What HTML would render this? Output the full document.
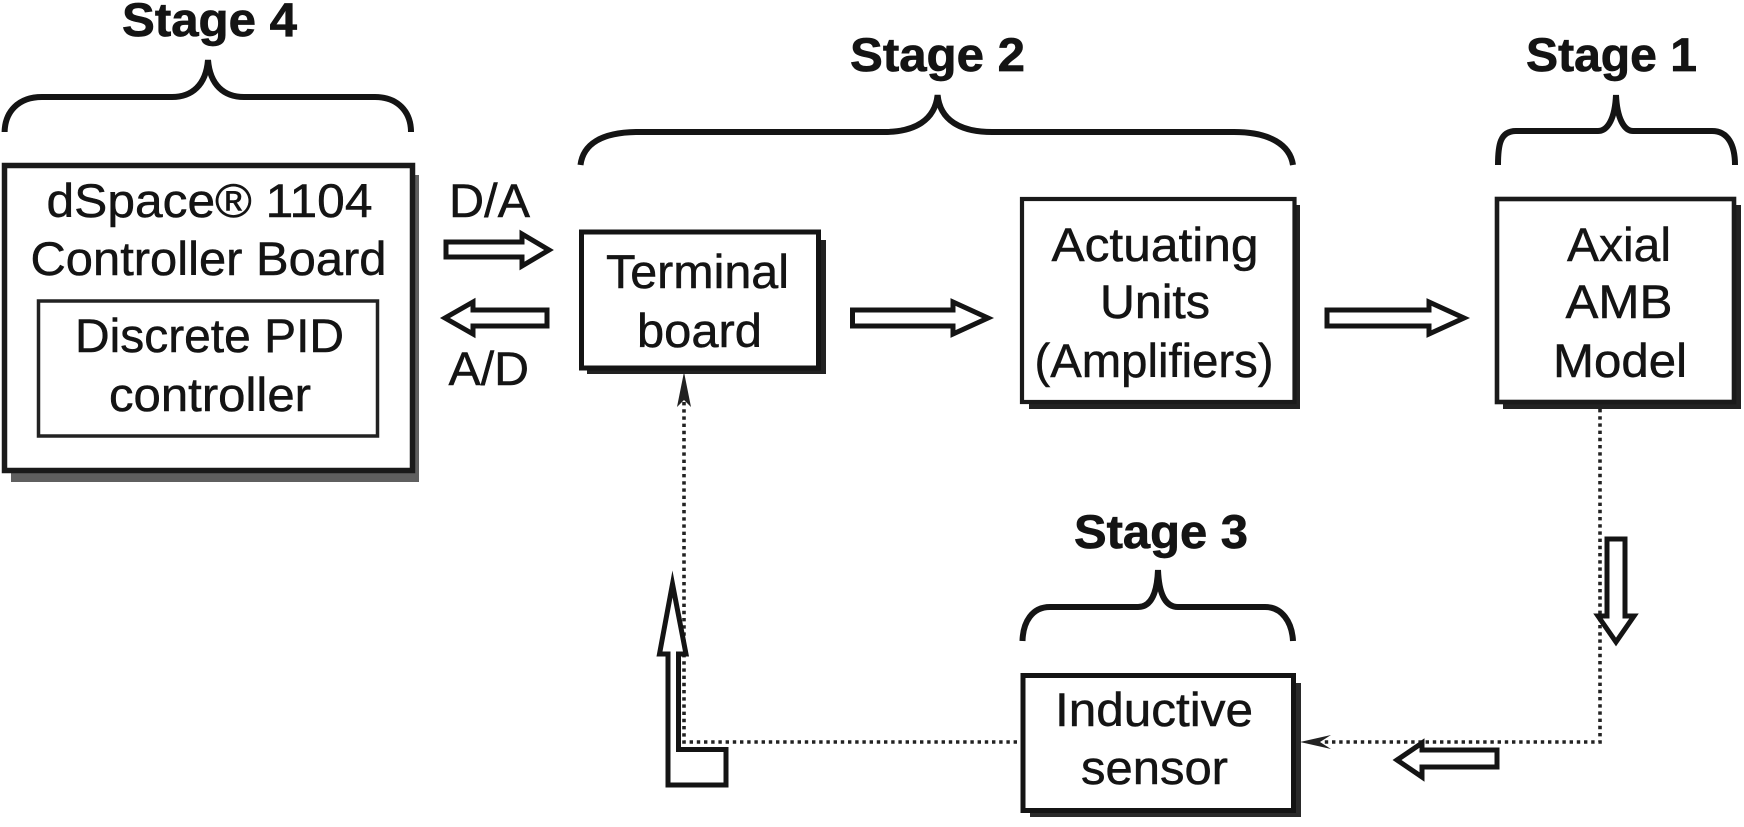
<!DOCTYPE html>
<html>
<head>
<meta charset="utf-8">
<style>
html,body{margin:0;padding:0;background:#fff;width:1744px;height:827px;overflow:hidden}
svg{display:block}
text{font-family:"Liberation Sans",sans-serif;fill:#141414;stroke:#141414;stroke-width:.5px;font-size:47px}
.b{font-weight:bold;stroke-width:.7px}
.br{fill:none;stroke:#141414;stroke-width:6}
.ar{fill:#fff;stroke:#141414;stroke-width:5;stroke-miterlimit:6}
.dot{fill:none;stroke:#222;stroke-width:3.6;stroke-dasharray:3.4 3.8}
</style>
</head>
<body>
<svg width="1744" height="827" viewBox="0 0 1744 827" xmlns="http://www.w3.org/2000/svg">
<rect width="1744" height="827" fill="#fff"/>

<!-- Shadows -->
<rect x="11" y="175" width="408" height="307" fill="#5f5f5f"/>
<rect x="587" y="240" width="239" height="134" fill="#222"/>
<rect x="1029" y="205" width="271" height="204" fill="#222"/>
<rect x="1503" y="205" width="238" height="204" fill="#222"/>
<rect x="1030" y="683" width="271" height="134" fill="#2a2a2a"/>

<!-- Boxes -->
<rect x="4.5" y="165.5" width="408" height="305" fill="#fff" stroke="#1a1a1a" stroke-width="5.5"/>
<rect x="38.5" y="301" width="339" height="135" fill="#fff" stroke="#222" stroke-width="3.5"/>
<rect x="581.5" y="232" width="237" height="136" fill="#fff" stroke="#141414" stroke-width="5"/>
<rect x="1022" y="199" width="272.5" height="203" fill="#fff" stroke="#1a1a1a" stroke-width="4.2"/>
<rect x="1497" y="199" width="237" height="203" fill="#fff" stroke="#1a1a1a" stroke-width="4.6"/>
<rect x="1023" y="675.5" width="270.5" height="135" fill="#fff" stroke="#141414" stroke-width="5"/>

<!-- Braces -->
<path class="br" d="M4.6 132 C5 112 18 97 42 97 L172 97 C192 97 206 85 208 60 C210 85 224 97 244 97 L375 97 C398 97 411 112 411 132"/>
<path class="br" d="M580.5 165 C583 145 600 132 639 132 L884 132 C915 132 935 120 937.6 95 C940 120 960 132 992 132 L1234 132 C1270 132 1290 145 1293 165"/>
<path class="br" d="M1498 165 C1498 145 1500 131 1516 131 L1598 131 C1608 131 1615 118 1616 95 C1617 118 1624 131 1633 131 L1712 131 C1728 131 1735 145 1735 165"/>
<path class="br" d="M1022.5 641 C1023 622 1032 607 1050 607 L1138 607 C1150 607 1157 595 1158 570 C1159 595 1166 607 1178 607 L1265 607 C1282 607 1292 622 1293 641"/>

<!-- Stage labels -->
<text class="b" x="122" y="36" textLength="175" lengthAdjust="spacingAndGlyphs">Stage 4</text>
<text class="b" x="850" y="71" textLength="175" lengthAdjust="spacingAndGlyphs">Stage 2</text>
<text class="b" x="1526" y="71" textLength="171" lengthAdjust="spacingAndGlyphs">Stage 1</text>
<text class="b" x="1074" y="548" textLength="174" lengthAdjust="spacingAndGlyphs">Stage 3</text>

<!-- Box text -->
<text x="46.5" y="217" textLength="326" lengthAdjust="spacingAndGlyphs">dSpace® 1104</text>
<text x="30.5" y="275" textLength="356" lengthAdjust="spacingAndGlyphs">Controller Board</text>
<text x="75" y="352" textLength="269" lengthAdjust="spacingAndGlyphs">Discrete PID</text>
<text x="109" y="411" textLength="202" lengthAdjust="spacingAndGlyphs">controller</text>
<text x="449" y="217" textLength="81" lengthAdjust="spacingAndGlyphs">D/A</text>
<text x="448.5" y="385" textLength="80.5" lengthAdjust="spacingAndGlyphs">A/D</text>
<text x="606" y="288" textLength="183" lengthAdjust="spacingAndGlyphs">Terminal</text>
<text x="637" y="347" textLength="125" lengthAdjust="spacingAndGlyphs">board</text>
<text x="1051.5" y="261" textLength="207" lengthAdjust="spacingAndGlyphs">Actuating</text>
<text x="1100" y="318" textLength="110" lengthAdjust="spacingAndGlyphs">Units</text>
<text x="1034.5" y="377" textLength="239" lengthAdjust="spacingAndGlyphs">(Amplifiers)</text>
<text x="1567" y="261" textLength="104" lengthAdjust="spacingAndGlyphs">Axial</text>
<text x="1565.5" y="318" textLength="107" lengthAdjust="spacingAndGlyphs">AMB</text>
<text x="1553" y="377" textLength="134" lengthAdjust="spacingAndGlyphs">Model</text>
<text x="1055" y="726" textLength="198" lengthAdjust="spacingAndGlyphs">Inductive</text>
<text x="1081" y="784" textLength="147" lengthAdjust="spacingAndGlyphs">sensor</text>

<!-- Dotted connectors -->
<path class="dot" d="M1600 409 L1600 742 L1322 742"/>
<path class="dot" d="M1017 742 L684 742 L684 400"/>
<path d="M1300 742 L1331 735 L1320 742 L1331 749 Z" fill="#222"/>
<path d="M684 372 L691 407 L684 400 L677 407 Z" fill="#222"/>

<!-- Block arrows -->
<path class="ar" d="M446 242 H522 V234 L549 250 L522 266 V257 H446 Z"/>
<path class="ar" d="M547 310 H473 V302 L445 318 L473 334 V326 H547 Z"/>
<path class="ar" d="M852.5 310 H953 V302 L988 318 L953 334 V326 H852.5 Z"/>
<path class="ar" d="M1327 310 H1429 V302 L1464 318 L1429 334 V326 H1327 Z"/>
<path class="ar" d="M1607 539 H1625 V616 H1634 L1616 642 L1598 616 H1607 Z"/>
<path class="ar" d="M1497 750 H1422 V743 L1397 760 L1422 777 V767 H1497 Z"/>
<path class="ar" d="M672.5 584 L686 654 H678.5 V749.5 H726 V785 H668 V654 H659.5 Z"/>
</svg>
</body>
</html>
